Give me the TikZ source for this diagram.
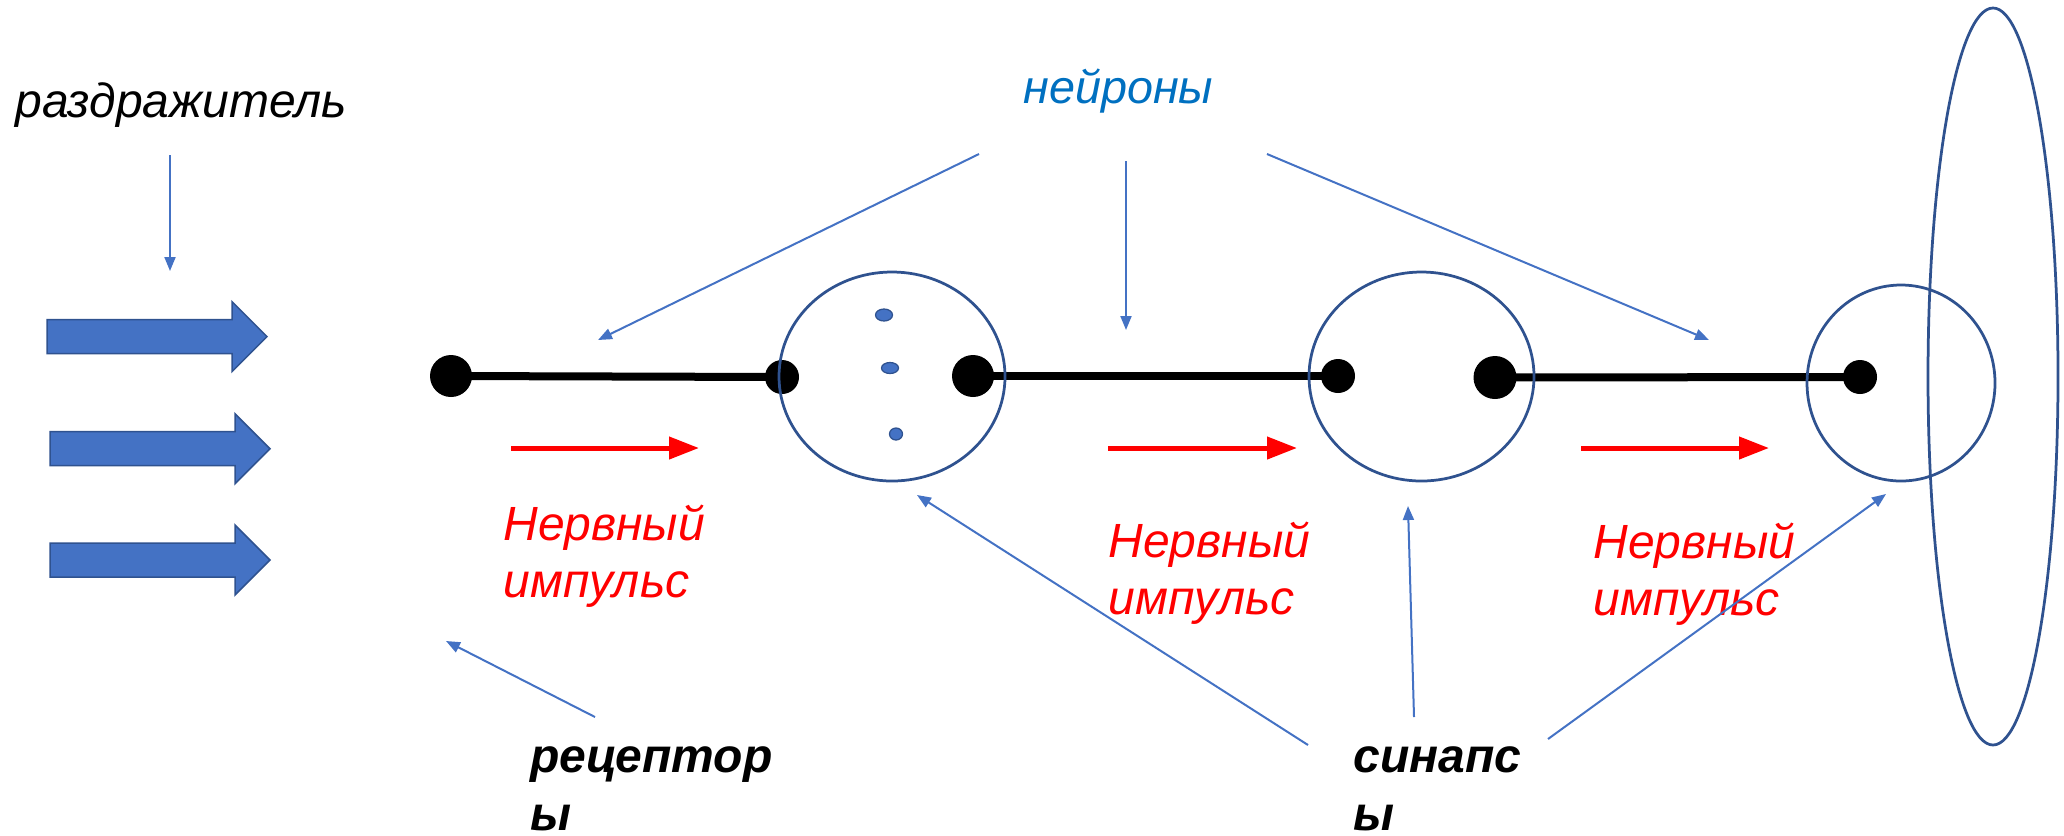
\documentclass[tikz,border=0pt]{standalone}
\usepackage{fontspec}
\setmainfont{Liberation Sans}
\usetikzlibrary{arrows.meta,shapes.geometric}
\definecolor{accent}{HTML}{4472C4}
\definecolor{edgeblue}{HTML}{2F528F}
\definecolor{nblue}{HTML}{0070C0}
\begin{document}
\begin{tikzpicture}[x=0.4pt,y=-0.4pt,
  dotnode/.style={circle, fill=black, inner sep=0pt, minimum size=#1},
  cell/.style={ellipse, draw=edgeblue, line width=1.1pt, inner sep=0pt},
  vesicle/.style={ellipse, fill=accent, draw=edgeblue, line width=0.5pt, inner sep=0pt},
  pointer/.style={draw=accent, line width=0.8pt, -{Triangle[length=5.6pt,width=4.4pt]}},
  impulse/.style={draw=red, line width=2pt, -{Triangle[length=12pt,width=8.7pt]}},
  axon/.style={draw=black, line width=3.2pt},
  bigarrow/.style={fill=accent, draw=edgeblue, line width=0.6pt},
  lbl/.style={inner sep=0pt, anchor=base west, align=left},
  itxt/.style={lbl, font=\fontsize{19.2}{22}\selectfont\itshape},
  redtxt/.style={lbl, text=red, font=\fontsize{19.2}{22.8}\selectfont\itshape},
  boldtxt/.style={lbl, font=\fontsize{19.2}{23.2}\selectfont\bfseries\itshape}]
\useasboundingbox (0,0) rectangle (2064,835);

% stimulus arrows
\foreach \xa/\xb/\xc/\yc in {47/232/267/336.6, 50/235/270/448.7, 50/235/270/560}{
  \draw[bigarrow] (\xa,\yc-17) -- (\xb,\yc-17) -- (\xb,\yc-35) -- (\xc,\yc)
     -- (\xb,\yc+35) -- (\xb,\yc+17) -- (\xa,\yc+17) -- cycle;
}

% texts (base anchor = baseline of the last line)
\node[itxt] (irr) at (15,117) {раздражитель};
\node[lbl, text=nblue, font=\fontsize{18.7}{22}\selectfont\itshape] (neur) at (1023,103) {нейроны};
\node[redtxt] (imp1) at (503,597) {Нервный\\импульс};
\node[redtxt] (imp2) at (1108,614) {Нервный\\импульс};
\node[redtxt] (imp3) at (1593,615) {Нервный\\импульс};
\node[boldtxt] (rec) at (530,830) {рецептор\\ы};
\node[boldtxt] (syn) at (1353,830) {синапс\\ы};

% neuron dots
\node[dotnode=16.8pt] (d1) at (451,376) {};
\node[dotnode=13.6pt] (d2) at (782,377) {};
\node[dotnode=16.8pt] (d3) at (973,376) {};
\node[dotnode=13.6pt] (d4) at (1338,376) {};
\node[dotnode=17.2pt] (d5) at (1495,377.5) {};
\node[dotnode=13.6pt] (d6) at (1860,377) {};

% axons
\draw[axon] (d1.center) -- (d2.center);
\draw[axon] (d3.center) -- (d4.center);
\draw[axon] (d5.center) -- (d6.center);

% synapse circles
\node[cell, minimum width=90.4pt, minimum height=83.6pt] (c1) at (892,376.5) {};
\node[cell, minimum width=90pt, minimum height=83.6pt] (c2) at (1421.5,376.5) {};
\node[cell, minimum width=75.2pt, minimum height=78.4pt] (c3) at (1901,383) {};
\node[cell, minimum width=52pt, minimum height=294.8pt] (organ) at (1993,376.5) {};

% vesicles
\node[vesicle, minimum width=6.8pt, minimum height=4.8pt] (v1) at (884,315) {};
\node[vesicle, minimum width=6.8pt, minimum height=4.4pt] (v2) at (890,368) {};
\node[vesicle, minimum width=5.2pt, minimum height=4.8pt] (v3) at (896,434) {};

% impulse arrows
\coordinate (i1s) at (511,448); \coordinate (i1e) at (699,448);
\coordinate (i2s) at (1108,448); \coordinate (i2e) at (1297,448);
\coordinate (i3s) at (1581,448); \coordinate (i3e) at (1769,448);
\draw[impulse] (i1s) -- (i1e);
\draw[impulse] (i2s) -- (i2e);
\draw[impulse] (i3s) -- (i3e);

% pointers
\coordinate (irrS) at (170,155); \coordinate (irrE) at (170,271);
\coordinate (n1S) at (979,154); \coordinate (n1E) at (598,340);
\coordinate (n2S) at (1126,161); \coordinate (n2E) at (1126,330);
\coordinate (n3S) at (1267,154); \coordinate (n3E) at (1709,340);
\coordinate (s1S) at (1308,745); \coordinate (s1E) at (917,495);
\coordinate (s2S) at (1414,717); \coordinate (s2E) at (1408,506);
\coordinate (s3S) at (1548,739); \coordinate (s3E) at (1886,494);
\coordinate (rS) at (595,717); \coordinate (rE) at (446,641);
\draw[pointer] (irrS) -- (irrE);
\draw[pointer] (n1S) -- (n1E);
\draw[pointer] (n2S) -- (n2E);
\draw[pointer] (n3S) -- (n3E);
\draw[pointer] (s1S) -- (s1E);
\draw[pointer] (s2S) -- (s2E);
\draw[pointer] (s3S) -- (s3E);
\draw[pointer] (rS) -- (rE);
\end{tikzpicture}
\end{document}
